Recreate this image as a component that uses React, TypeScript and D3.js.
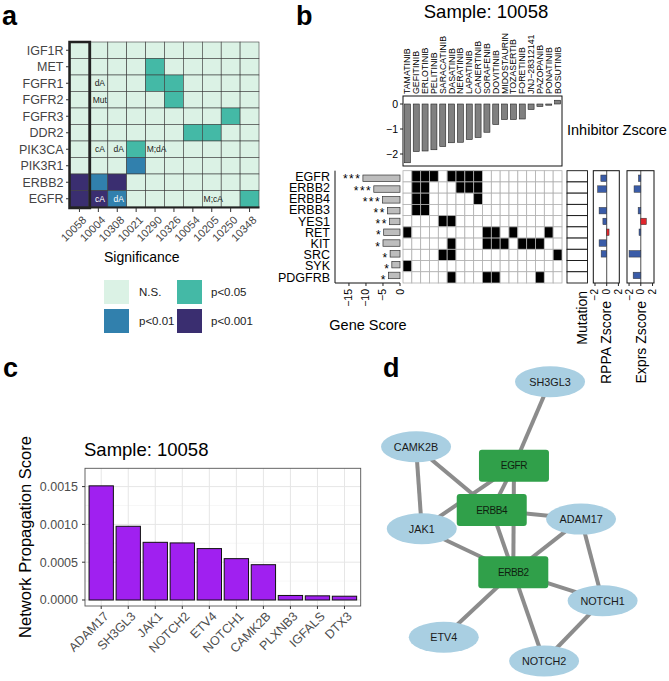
import * as d3 from "d3";

const FONT = "'Liberation Sans', Arial, Helvetica, sans-serif";

// ---- panel a: significance heatmap
const samplesA = ["10058", "10004", "10308", "10021", "10290", "10326", "10054", "10205", "10250", "10348"];
const genesA = ["IGF1R", "MET", "FGFR1", "FGFR2", "FGFR3", "DDR2", "PIK3CA", "PIK3R1", "ERBB2", "EGFR"];
const sigLevels = ["N.S.", "p<0.05", "p<0.01", "p<0.001"];
const sigColors = ["#dbf2e5", "#44b9a6", "#3180ad", "#3a2e70"];
const legendOrder = ["N.S.", "p<0.01", "p<0.05", "p<0.001"];
const sigCells: [string, string, string][] = [
  ["MET", "10290", "p<0.05"],
  ["FGFR1", "10290", "p<0.05"],
  ["FGFR1", "10326", "p<0.05"],
  ["FGFR2", "10326", "p<0.05"],
  ["FGFR3", "10250", "p<0.05"],
  ["DDR2", "10054", "p<0.05"],
  ["DDR2", "10205", "p<0.05"],
  ["PIK3CA", "10021", "p<0.05"],
  ["PIK3R1", "10021", "p<0.01"],
  ["ERBB2", "10058", "p<0.001"],
  ["ERBB2", "10004", "p<0.01"],
  ["ERBB2", "10308", "p<0.001"],
  ["EGFR", "10058", "p<0.001"],
  ["EGFR", "10004", "p<0.001"],
  ["EGFR", "10308", "p<0.01"],
  ["EGFR", "10348", "p<0.05"],
];
const cellNotes: [string, string, string][] = [
  ["FGFR1", "10004", "dA"],
  ["FGFR2", "10004", "Mut"],
  ["PIK3CA", "10004", "cA"],
  ["PIK3CA", "10308", "dA"],
  ["PIK3CA", "10290", "M;dA"],
  ["EGFR", "10004", "cA"],
  ["EGFR", "10308", "dA"],
  ["EGFR", "10205", "M;cA"],
];

// ---- panel b: inhibitors x genes
const inhibitors = ["TAMATINIB", "GEFITINIB", "ERLOTINIB", "PELITINIB", "SARACATINIB", "DASATINIB", "NERATINIB", "LAPATINIB", "CANERTINIB", "SORAFENIB", "DOVITINIB", "MIDOSTAURIN", "TOZASERTIB", "FORETINIB", "JNJ\u221228312141", "PAZOPANIB", "PONATINIB", "BOSUTINIB"];
const inhibitorZ = [-2.35, -1.9, -1.88, -1.83, -1.7, -1.55, -1.53, -1.42, -1.34, -1.13, -0.82, -0.62, -0.62, -0.6, -0.22, -0.1, -0.04, 0.15];
const genesB = ["EGFR", "ERBB2", "ERBB4", "ERBB3", "YES1", "RET", "KIT", "SRC", "SYK", "PDGFRB"];
const geneScore = [-10.9, -7.7, -5.1, -3.7, -3.1, -4.8, -5.0, -2.9, -2.4, -3.4];
const geneStars = ["***", "***", "***", "**", "**", "*", "*", "*", "*", "*"];
const geneTargets: string[][] = [
  ["GEFITINIB", "ERLOTINIB", "PELITINIB", "DASATINIB", "NERATINIB", "LAPATINIB", "CANERTINIB"],
  ["GEFITINIB", "ERLOTINIB", "NERATINIB", "LAPATINIB", "CANERTINIB"],
  ["GEFITINIB", "ERLOTINIB", "CANERTINIB"],
  ["GEFITINIB", "ERLOTINIB"],
  ["SARACATINIB", "DASATINIB"],
  ["TAMATINIB", "SORAFENIB", "DOVITINIB", "TOZASERTIB", "PONATINIB"],
  ["DASATINIB", "SORAFENIB", "DOVITINIB", "MIDOSTAURIN", "FORETINIB", "JNJ\u221228312141", "PAZOPANIB"],
  ["SARACATINIB", "DASATINIB", "BOSUTINIB"],
  ["TAMATINIB"],
  ["DASATINIB", "SORAFENIB", "DOVITINIB", "PAZOPANIB"],
];
const rppaZ: (number | null)[] = [-1.0, -1.55, null, -1.3, -0.65, 0.4, -1.3, -0.95, null, null];
const exprZ: (number | null)[] = [-0.4, -1.15, null, -0.45, 0.95, -0.3, null, -2.0, null, -1.3];

// ---- panel c: network propagation
const npGenes = ["ADAM17", "SH3GL3", "JAK1", "NOTCH2", "ETV4", "NOTCH1", "CAMK2B", "PLXNB3", "IGFALS", "DTX3"];
const npScore = [0.00151, 0.000975, 0.000763, 0.000755, 0.00068, 0.000547, 0.000467, 0.00006, 0.000055, 0.00005];

// ---- panel d: network (layout units)
const netNodes = ["SH3GL3", "CAMK2B", "EGFR", "ERBB4", "ADAM17", "JAK1", "ERBB2", "NOTCH1", "ETV4", "NOTCH2"];
const netKinase = ["EGFR", "ERBB4", "ERBB2"];
const netX = [6.82, 0.73, 5.18, 4.17, 8.23, 0.99, 5.15, 9.21, 1.99, 6.55];
const netY = [0.39, 2.56, 3.19, 4.67, 4.97, 5.29, 6.74, 7.69, 8.91, 9.7];
const netEdges: [string, string][] = [
  ["SH3GL3", "EGFR"],
  ["CAMK2B", "JAK1"],
  ["CAMK2B", "ERBB4"],
  ["JAK1", "EGFR"],
  ["EGFR", "ERBB4"],
  ["EGFR", "ERBB2"],
  ["ERBB4", "ERBB2"],
  ["ERBB4", "ADAM17"],
  ["ADAM17", "ERBB2"],
  ["ADAM17", "NOTCH1"],
  ["JAK1", "ERBB2"],
  ["ERBB2", "NOTCH1"],
  ["ERBB2", "ETV4"],
  ["ERBB2", "NOTCH2"],
  ["NOTCH1", "NOTCH2"],
];

function PanelA() {
  const x = d3.scaleBand(samplesA, [70, 259]);
  const y = d3.scaleBand(genesA, [42, 207]);
  const color = d3.scaleOrdinal(sigLevels, sigColors);
  const sig = new Map(sigCells.map(([g, s, l]) => [g + "|" + s, l]));
  const bw = x.bandwidth();
  const bh = y.bandwidth();
  return (
    <g>
      <text x={2} y={25} fontSize={27} fontWeight="bold">a</text>
      {genesA.flatMap((g) =>
        samplesA.map((s) => (
          <rect key={g + s} x={x(s)} y={y(g)} width={bw} height={bh}
            fill={color(sig.get(g + "|" + s) ?? "N.S.")} stroke="#3d3d3d" strokeWidth={0.6} />
        ))
      )}
      {cellNotes.map(([g, s, t]) => {
        const l = sig.get(g + "|" + s);
        const dark = l === "p<0.01" || l === "p<0.001";
        return (
          <text key={g + s} x={x(s)! + bw / 2 + 1.5} y={y(g)! + bh / 2 + 3} fontSize={8.5}
            textAnchor="middle" fill={dark ? "#ffffff" : "#222"}>{t}</text>
        );
      })}
      <rect x={x("10058")! - 0.5} y={42} width={bw + 1.5} height={166} fill="none" stroke="#222" strokeWidth={2.5} />
      <line x1={69} x2={259.5} y1={207.5} y2={207.5} stroke="#222" strokeWidth={2} />
      {genesA.map((g) => (
        <g key={g}>
          <line x1={66} x2={69} y1={y(g)! + bh / 2} y2={y(g)! + bh / 2} stroke="#333" />
          <text x={63.5} y={y(g)! + bh / 2 + 4.3} fontSize={12.5} textAnchor="end" fill="#444">{g}</text>
        </g>
      ))}
      {samplesA.map((s) => {
        const cx = x(s)! + bw / 2;
        return (
          <g key={s}>
            <line x1={cx} x2={cx} y1={208} y2={212} stroke="#333" />
            <text transform={`translate(${cx + 5},${218}) rotate(-45)`} fontSize={11} textAnchor="end" fill="#444" dy="0.35em">{s}</text>
          </g>
        );
      })}
      <text x={104} y={262} fontSize={14}>Significance</text>
      {legendOrder.map((l, i) => {
        const kx = 104 + Math.floor(i / 2) * 73;
        const ky = 280 + (i % 2) * 29;
        return (
          <g key={l}>
            <rect x={kx} y={ky} width={25} height={24} fill={color(l)} />
            <text x={kx + (i < 2 ? 35 : 34)} y={ky + 16} fontSize={11.5} fill="#222">{l}</text>
          </g>
        );
      })}
    </g>
  );
}

function PanelB() {
  const x = d3.scaleBand(inhibitors, [403, 562]);
  const xb = d3.scaleBand(inhibitors, [403, 562]).paddingInner(0.32).paddingOuter(0.16);
  const yTop = d3.scaleLinear([-2.48, 0.32], [166, 96]);
  const y = d3.scaleBand(genesB, [170.7, 283]);
  const yb = d3.scaleBand(genesB, [170.7, 283]).padding(0.4);
  const xs = d3.scaleLinear([-19.1, 0], [335, 400]);
  const xr = d3.scaleLinear([-2.29, 2.15], [593.3, 619.3]);
  const xe = d3.scaleLinear([-2.35, 2.25], [627, 654]);
  const hits = geneTargets.map((t) => new Set(t));
  const minus = (v: number) => (v < 0 ? "\u2212" + Math.abs(v) : String(v));

  const side = (sc: d3.ScaleLinear<number, number>, vals: (number | null)[], label: string) => {
    const [x0, x1] = sc.range();
    return (
      <g>
        <line x1={sc(0)} x2={sc(0)} y1={170.7} y2={283} stroke="#222" strokeWidth={0.8} />
        {vals.map((v, i) =>
          v == null ? null : (
            <rect key={i} x={Math.min(sc(0), sc(v))} y={yb(genesB[i])} width={Math.abs(sc(v) - sc(0))}
              height={yb.bandwidth()} fill={v > 0 ? "#e0262c" : "#3a5ca8"} stroke="#333" strokeWidth={0.5} />
          )
        )}
        <rect x={x0} y={170.7} width={x1 - x0} height={112.3} fill="none" stroke="#111" strokeWidth={1} />
        {[-2, 0, 2].map((t) => (
          <g key={t}>
            <line x1={sc(t)} x2={sc(t)} y1={283} y2={286} stroke="#222" />
            <text transform={`translate(${sc(t) + 3.5},${289}) rotate(-90)`} fontSize={10} textAnchor="end">{minus(t)}</text>
          </g>
        ))}
        <text transform={`translate(${(x0 + x1) / 2 + 5},${301}) rotate(-90)`} fontSize={14} textAnchor="end">{label}</text>
      </g>
    );
  };

  return (
    <g>
      <text x={296} y={25} fontSize={27} fontWeight="bold">b</text>
      <text x={486} y={18} fontSize={18.5} textAnchor="middle">Sample: 10058</text>
      {/* inhibitor labels */}
      {inhibitors.map((d) => (
        <text key={d} transform={`translate(${x(d)! + x.bandwidth() / 2 + 3},${94}) rotate(-90)`} fontSize={8.8}>{d}</text>
      ))}
      {/* inhibitor z-score bars */}
      <rect x={403} y={96} width={159} height={70} fill="none" stroke="#111" strokeWidth={1} />
      {inhibitors.map((d, i) => {
        const v = inhibitorZ[i];
        return (
          <rect key={d} x={xb(d)} y={Math.min(yTop(0), yTop(v))} width={xb.bandwidth()}
            height={Math.max(1.2, Math.abs(yTop(v) - yTop(0)))} fill="#808080" stroke="#222" strokeWidth={0.6} />
        );
      })}
      {[0, -1, -2].map((t) => (
        <g key={t}>
          <line x1={400} x2={403} y1={yTop(t)} y2={yTop(t)} stroke="#222" />
          <text x={398} y={yTop(t) + 3.5} fontSize={10.5} textAnchor="end">{minus(t)}</text>
        </g>
      ))}
      <text x={567} y={135} fontSize={14.5}>Inhibitor Zscore</text>

      {/* target matrix */}
      {genesB.flatMap((g, i) =>
        inhibitors.map((d) => (
          <rect key={g + d} x={x(d)} y={y(g)} width={x.bandwidth()} height={y.bandwidth()}
            fill={hits[i].has(d) ? "#000" : "#fff"} stroke="#b0b0b0" strokeWidth={0.8} />
        ))
      )}

      {/* gene score */}
      {genesB.map((g, i) => (
        <g key={g}>
          <text x={330} y={y(g)! + y.bandwidth() / 2 + 4.3} fontSize={12.5} textAnchor="end">{g}</text>
          <rect x={xs(geneScore[i])} y={yb(g)} width={xs(0) - xs(geneScore[i])} height={yb.bandwidth()}
            fill="#bdbdbd" stroke="#333" strokeWidth={0.7} />
          <text x={xs(geneScore[i]) - 1.5} y={y(g)! + y.bandwidth() / 2 + 7} fontSize={12} textAnchor="end" letterSpacing={1.5}>{geneStars[i]}</text>
        </g>
      ))}
      <line x1={335} x2={335} y1={170.7} y2={283} stroke="#111" strokeWidth={1} />
      <line x1={335} x2={400} y1={283} y2={283} stroke="#111" strokeWidth={1} />
      {[-15, -10, -5, 0].map((t) => (
        <g key={t}>
          <line x1={xs(t)} x2={xs(t)} y1={283} y2={286} stroke="#222" />
          <text transform={`translate(${xs(t) + 3.5},${289}) rotate(-90)`} fontSize={10.5} textAnchor="end">{minus(t)}</text>
        </g>
      ))}
      <text x={368} y={330} fontSize={14.5} textAnchor="middle">Gene Score</text>

      {/* mutation */}
      {genesB.map((g) => (
        <rect key={g} x={567} y={y(g)} width={20.5} height={y.bandwidth()} fill="#fff" stroke="#111" strokeWidth={0.9} />
      ))}
      <text transform="translate(586.5,291) rotate(-90)" fontSize={14} textAnchor="end">Mutation</text>
      {side(xr, rppaZ, "RPPA Zscore")}
      {side(xe, exprZ, "Exprs Zscore")}
    </g>
  );
}

function PanelC() {
  const x = d3.scaleBand(npGenes, [85, 360.7]).paddingInner(0.1).paddingOuter(0.15);
  const y = d3.scaleLinear([-0.0000794, 0.001742], [606, 468.3]);
  const major = [0, 0.0005, 0.001, 0.0015];
  const minor = [0.00025, 0.00075, 0.00125];
  return (
    <g>
      <text x={3} y={377} fontSize={27} fontWeight="bold">c</text>
      <text x={84} y={456} fontSize={18.5}>Sample: 10058</text>
      <rect x={85} y={468.3} width={275.7} height={137.7} fill="#fff" />
      {minor.map((t) => (
        <line key={t} x1={85} x2={360.7} y1={y(t)} y2={y(t)} stroke="#f2f2f2" strokeWidth={0.6} />
      ))}
      {major.map((t) => (
        <line key={t} x1={85} x2={360.7} y1={y(t)} y2={y(t)} stroke="#e6e6e6" strokeWidth={1} />
      ))}
      {npGenes.map((g) => (
        <line key={g} x1={x(g)! + x.bandwidth() / 2} x2={x(g)! + x.bandwidth() / 2} y1={468.3} y2={606} stroke="#e6e6e6" strokeWidth={1} />
      ))}
      {npGenes.map((g, i) => (
        <rect key={g} x={x(g)} y={y(npScore[i])} width={x.bandwidth()} height={y(0) - y(npScore[i])}
          fill="#a020f0" stroke="#111" strokeWidth={1} />
      ))}
      <rect x={85} y={468.3} width={275.7} height={137.7} fill="none" stroke="#555" strokeWidth={0.9} />
      {major.map((t) => (
        <g key={t}>
          <line x1={82} x2={85} y1={y(t)} y2={y(t)} stroke="#333" />
          <text x={78} y={y(t) + 4.5} fontSize={12.5} textAnchor="end" fill="#4d4d4d">{d3.format(".4f")(t)}</text>
        </g>
      ))}
      {npGenes.map((g) => {
        const cx = x(g)! + x.bandwidth() / 2;
        return (
          <g key={g}>
            <line x1={cx} x2={cx} y1={606} y2={609} stroke="#333" />
            <text transform={`translate(${cx + 5},${614}) rotate(-45)`} fontSize={12.5} textAnchor="end" dy="0.35em" fill="#4d4d4d">{g}</text>
          </g>
        );
      })}
      <text transform="translate(31,537) rotate(-90)" fontSize={16.5} textAnchor="middle">Network Propagation Score</text>
    </g>
  );
}

function PanelD() {
  const x = d3.scaleLinear([0, 10], [400, 620]);
  const y = d3.scaleLinear([0, 10], [370, 670]);
  const pos = new Map(netNodes.map((n, i) => [n, [x(netX[i]), y(netY[i])]]));
  const kin = new Set(netKinase);
  return (
    <g>
      <text x={383} y={377} fontSize={27} fontWeight="bold">d</text>
      {netEdges.map(([a, b]) => {
        const [x1, y1] = pos.get(a)!;
        const [x2, y2] = pos.get(b)!;
        return <line key={a + b} x1={x1} y1={y1} x2={x2} y2={y2} stroke="#8c8c8c" strokeWidth={4} />;
      })}
      {netNodes.map((n) => {
        const [cx, cy] = pos.get(n)!;
        return kin.has(n) ? (
          <g key={n}>
            <rect x={cx - 35} y={cy - 16} width={70} height={32} rx={3} fill="#30a04a" />
            <text x={cx} y={cy + 3.5} fontSize={10} textAnchor="middle" fill="#0f1f10" letterSpacing={-0.4}>{n}</text>
          </g>
        ) : (
          <g key={n}>
            <ellipse cx={cx} cy={cy} rx={35} ry={15.5} fill="#a9cfe2" />
            <text x={cx} y={cy + 4} fontSize={10.8} textAnchor="middle" fill="#1a1a1a">{n}</text>
          </g>
        );
      })}
    </g>
  );
}

export default function App() {
  return (
    <svg width={669} height={681} style={{ position: "absolute", left: 0, top: 0, background: "#fff" }} fontFamily={FONT}>
      <rect width={669} height={681} fill="#fff" />
      <PanelA />
      <PanelB />
      <PanelC />
      <PanelD />
    </svg>
  );
}
